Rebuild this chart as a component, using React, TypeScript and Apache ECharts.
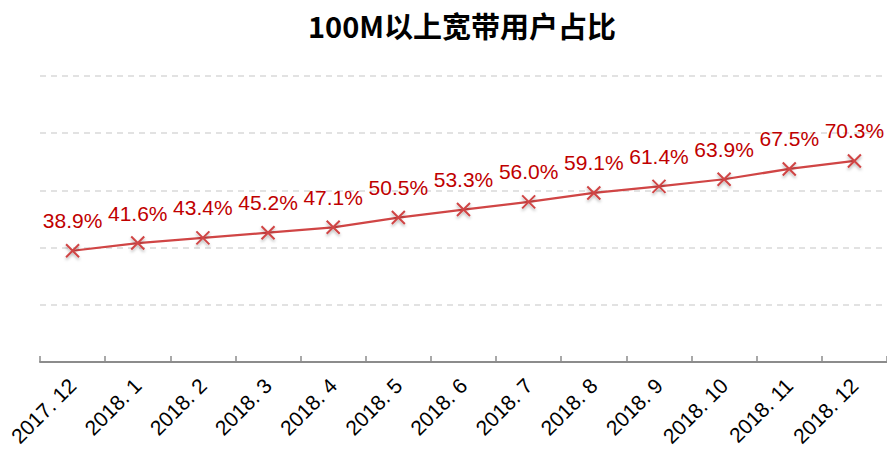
import React, { useEffect, useRef } from "react";
import * as echarts from "echarts";

const categories = ["2017. 12", "2018. 1", "2018. 2", "2018. 3", "2018. 4", "2018. 5", "2018. 6", "2018. 7", "2018. 8", "2018. 9", "2018. 10", "2018. 11", "2018. 12"];
const values = [38.9, 41.6, 43.4, 45.2, 47.1, 50.5, 53.3, 56.0, 59.1, 61.4, 63.9, 67.5, 70.3];
const titleText = "100M以上宽带用户占比";

export default function App() {
  const ref = useRef<HTMLDivElement>(null);
  useEffect(() => {
    const chart = echarts.init(ref.current!, null, { renderer: "svg" });
    chart.setOption({
      animation: false,
      title: {
        text: titleText,
        left: 303,
        top: 5,
        textStyle: { fontSize: 29, fontWeight: "bold", color: "#000", fontFamily: "Noto Sans CJK SC" },
      },
      grid: { left: 40, right: 0, top: 76, bottom: 93, containLabel: false },
      xAxis: {
        type: "category",
        data: categories,
        boundaryGap: true,
        axisLine: { lineStyle: { color: "#8c8c8c", width: 2 } },
        axisTick: { show: true, inside: true, length: 6, lineStyle: { color: "#8c8c8c", width: 1.5 } },
        axisLabel: { rotate: 45, margin: 20, fontSize: 21, color: "#000", fontFamily: "Liberation Sans", interval: 0 },
      },
      yAxis: {
        type: "value",
        min: 0,
        max: 100,
        interval: 20,
        axisLine: { show: false },
        axisTick: { show: false },
        axisLabel: { show: false },
        splitLine: { lineStyle: { color: "#d9d9d9", type: [6, 5], width: 1.5 } },
      },
      series: [
        {
          type: "line",
          data: values,
          symbol: "path://M0,0L10,10M10,0L0,10",
          symbolSize: 13,
          lineStyle: { color: "#d04545", width: 2.25 },
          itemStyle: {
            color: "#d04545",
            borderColor: "#d04545",
            borderWidth: 2,
            shadowBlur: 3,
            shadowColor: "rgba(0,0,0,0.3)",
            shadowOffsetY: 2,
          },
          label: {
            show: true,
            position: "top",
            distance: 12,
            formatter: (p: any) => p.value.toFixed(1) + "%",
            fontSize: 21,
            color: "#c00000",
            fontFamily: "Liberation Sans",
          },
        },
      ],
    });
    return () => chart.dispose();
  }, []);
  return <div ref={ref} style={{ width: 887, height: 455, position: "absolute", left: 0, top: 0 }} />;
}
